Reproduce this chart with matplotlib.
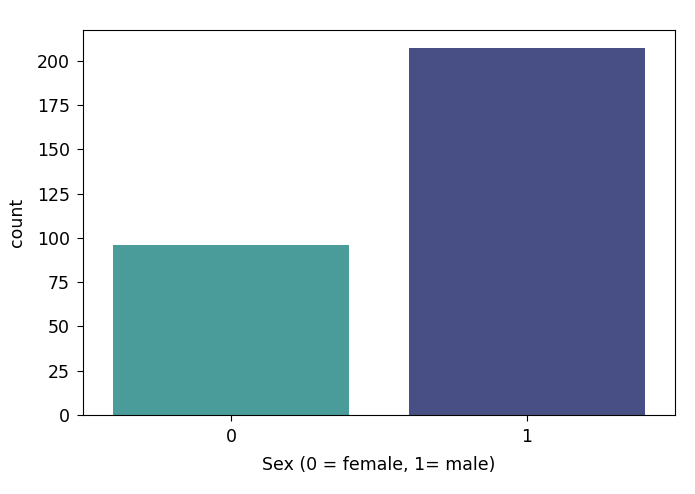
import matplotlib
matplotlib.use("Agg")
import matplotlib.pyplot as plt

categories = ["0", "1"]
counts = [96, 207]
colors = ["#4a9c9a", "#474f84"]

plt.rcParams["font.size"] = 12.5
plt.rcParams["xtick.major.size"] = 4.4
plt.rcParams["ytick.major.size"] = 4.4
plt.rcParams["xtick.major.pad"] = 5
plt.rcParams["ytick.major.pad"] = 5
fig = plt.figure(figsize=(6.95, 4.94), dpi=100)
ax = fig.add_axes([83/695, 1 - 415/494, 592/695, 385/494])
x = list(range(len(categories)))
ax.bar(x, counts, width=0.8, color=colors)
ax.set_xticks(x)
ax.set_xticklabels(categories)
ax.set_xlim(-0.5, 1.5)
ax.set_ylabel("count", labelpad=8)
ax.set_xlabel("Sex (0 = female, 1= male)", labelpad=7)
fig.savefig("out.png", dpi=100)
